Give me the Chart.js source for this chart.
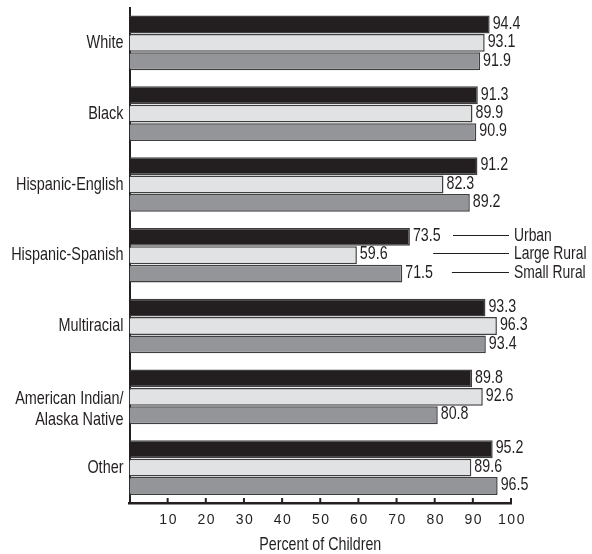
<!DOCTYPE html>
<html>
<head>
<meta charset="utf-8">
<script src="https://cdn.jsdelivr.net/npm/chart.js@4/dist/chart.umd.min.js"></script>
<style>
  html, body { margin: 0; padding: 0; background: #fff; }
  canvas { display: block; }
</style>
</head>
<body>
<canvas id="chartCanvas" width="592" height="554"></canvas>
<script>
// --- data ---
const categories = ["White", "Black", "Hispanic-English", "Hispanic-Spanish", "Multiracial",
  ["American Indian/", "Alaska Native"], "Other"];
const seriesNames = ["Urban", "Large Rural", "Small Rural"];
const urban = [94.4, 91.3, 91.2, 73.5, 93.3, 89.8, 95.2];
const largeRural = [93.1, 89.9, 82.3, 59.6, 96.3, 92.6, 89.6];
const smallRural = [91.9, 90.9, 89.2, 71.5, 93.4, 80.8, 96.5];
const xTicks = [10, 20, 30, 40, 50, 60, 70, 80, 90, 100];
const xTitle = "Percent of Children";

const sans = "'Liberation Sans', Arial, sans-serif";
const ink = "#231f20";
const fills = ["#231f20", "#e1e2e3", "#939598"];
const edge = "#3f3f41";

// no condensed face installed, so squeeze Liberation Sans horizontally
function condensed(ctx, text, x, y, align, squeeze) {
  ctx.save();
  ctx.translate(x, y);
  ctx.scale(squeeze, 1);
  ctx.textAlign = align;
  ctx.fillText(text, 0, 0);
  ctx.restore();
}

// value labels at the end of every bar
const valueLabels = {
  id: "valueLabels",
  afterDatasetsDraw(chart) {
    const ctx = chart.ctx;
    ctx.save();
    ctx.font = "19px " + sans;
    ctx.fillStyle = ink;
    ctx.textBaseline = "middle";
    chart.data.datasets.forEach((ds, i) => {
      chart.getDatasetMeta(i).data.forEach((bar, j) => {
        condensed(ctx, ds.data[j].toFixed(1), bar.x + 3, bar.y - 1, "left", 0.75);
      });
    });
    ctx.restore();
  }
};

// category names, tick labels and axis title
const axisText = {
  id: "axisText",
  afterDraw(chart) {
    const ctx = chart.ctx;
    const x = chart.scales.x, y = chart.scales.y;
    const area = chart.chartArea;
    ctx.save();
    ctx.fillStyle = ink;
    ctx.textBaseline = "middle";
    ctx.font = "19px " + sans;
    categories.forEach((c, i) => {
      const cy = y.getPixelForValue(i);
      const lines = Array.isArray(c) ? c : [c];
      const start = lines.length > 1 ? cy + 2 : cy;
      lines.forEach((ln, k) => condensed(ctx, ln, area.left - 6, start + k * 21, "right", 0.76));
    });
    ctx.font = "14px " + sans;
    if ("letterSpacing" in ctx) ctx.letterSpacing = "1.5px";
    xTicks.forEach(v => {
      ctx.textAlign = "center";
      ctx.fillText(String(v), x.getPixelForValue(v) + 1, area.bottom + 17);
    });
    if ("letterSpacing" in ctx) ctx.letterSpacing = "0px";
    ctx.font = "19px " + sans;
    condensed(ctx, xTitle, (area.left + area.right) / 2, area.bottom + 42, "center", 0.75);
    ctx.restore();
  }
};

// legend drawn beside the Hispanic-Spanish group with leader lines
const sideLegend = {
  id: "sideLegend",
  afterDraw(chart) {
    const ctx = chart.ctx;
    const x = chart.scales.x;
    const row = 3; // Hispanic-Spanish
    const starts = [84.8, 79.6, 84.5];
    const lineEnd = x.getPixelForValue(100) - 2;
    ctx.save();
    ctx.strokeStyle = ink;
    ctx.lineWidth = 1;
    ctx.fillStyle = ink;
    ctx.font = "19px " + sans;
    ctx.textBaseline = "middle";
    seriesNames.forEach((name, i) => {
      const y = Math.round(chart.getDatasetMeta(i).data[row].y - 2) + 0.5;
      ctx.beginPath();
      ctx.moveTo(x.getPixelForValue(starts[i]), y);
      ctx.lineTo(lineEnd, y);
      ctx.stroke();
      condensed(ctx, name, lineEnd + 5, y, "left", 0.73);
    });
    ctx.restore();
  }
};

// small tick marks rising from the x axis
const innerTicks = {
  id: "innerTicks",
  afterDraw(chart) {
    const ctx = chart.ctx;
    const x = chart.scales.x;
    const base = chart.chartArea.bottom;
    ctx.save();
    ctx.strokeStyle = ink;
    ctx.lineWidth = 2;
    xTicks.forEach(v => {
      const px = x.getPixelForValue(v);
      ctx.beginPath();
      ctx.moveTo(px, base);
      ctx.lineTo(px, base - 5);
      ctx.stroke();
    });
    ctx.restore();
  }
};

const datasets = [urban, largeRural, smallRural].map((vals, i) => ({
  label: seriesNames[i],
  data: vals,
  backgroundColor: fills[i],
  borderColor: edge,
  borderWidth: 1.5,
  barPercentage: 0.97,
  categoryPercentage: 0.78
}));

new Chart(document.getElementById("chartCanvas"), {
  type: "bar",
  data: { labels: categories, datasets },
  options: {
    indexAxis: "y",
    responsive: false,
    animation: false,
    layout: { padding: { top: 7.5, right: 81, left: 0, bottom: 0 } },
    plugins: {
      legend: { display: false },
      tooltip: { enabled: false }
    },
    scales: {
      x: {
        min: 0,
        max: 100,
        afterFit(scale) { scale.height = 51; },
        grid: { display: false, drawTicks: false },
        border: { display: true, color: ink, width: 2.5 },
        ticks: { display: false }
      },
      y: {
        afterFit(scale) { scale.width = 129.5; },
        grid: { display: false, drawTicks: false },
        border: { display: true, color: ink, width: 2 },
        ticks: { display: false }
      }
    }
  },
  plugins: [valueLabels, axisText, sideLegend, innerTicks]
});
</script>
</body>
</html>
